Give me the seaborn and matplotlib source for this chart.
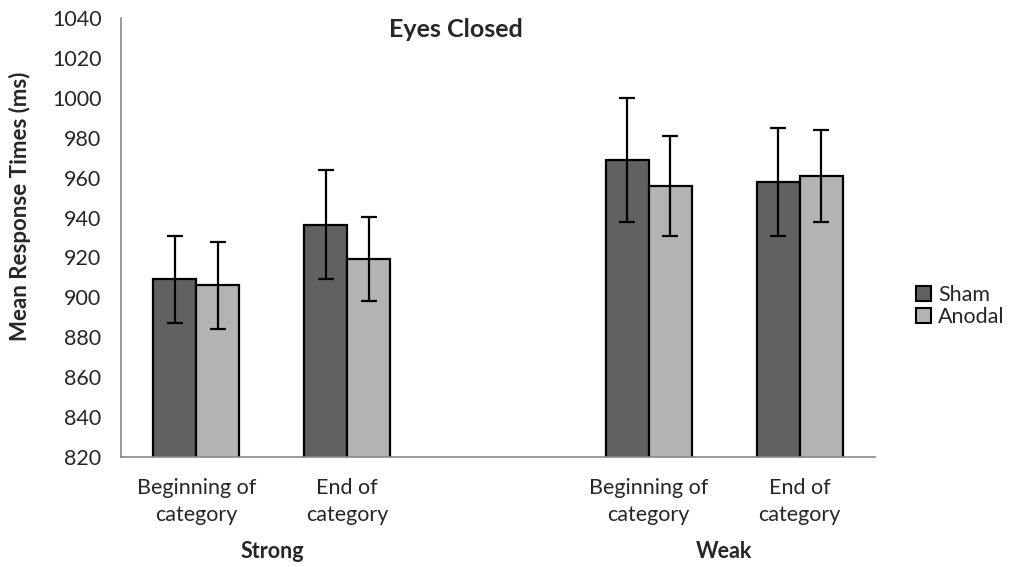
import pandas as pd
import numpy as np
import matplotlib
matplotlib.use("Agg")
import matplotlib.pyplot as plt
import seaborn as sns
from matplotlib.patches import Patch

# data
slots = ["Strong-Beg", "Strong-End", "gap", "Weak-Beg", "Weak-End"]
slot_labels = ["Beginning of\ncategory", "End of\ncategory", "", "Beginning of\ncategory", "End of\ncategory"]
bar_slots = ["Strong-Beg", "Strong-End", "Weak-Beg", "Weak-End"]
sham = [909, 936.4, 969, 957.8]
anodal = [906, 919.4, 955.7, 960.7]
sham_err = [22, 27.3, 31, 27]
anodal_err = [21.8, 21, 25, 23]
groups = ["Strong", "Weak"]
conditions = ["Sham", "Anodal"]
colors = {"Sham": "#616161", "Anodal": "#b3b3b3"}

df = pd.DataFrame({
    "slot": bar_slots * 2,
    "cond": ["Sham"] * 4 + ["Anodal"] * 4,
    "rt": sham + anodal,
    "err": sham_err + anodal_err,
})

sns.set_style("white")
plt.rcParams["font.family"] = ["Lato", "DejaVu Sans"]
fs = 15.5

fig = plt.figure(figsize=(10.15, 5.67), dpi=100)
ax = fig.add_axes([121 / 1015, 1 - 457 / 567, 754 / 1015, 439 / 567])

sns.barplot(data=df, x="slot", y="rt", hue="cond", order=slots, hue_order=conditions,
            palette=colors, width=0.57, gap=0, edgecolor="black", linewidth=1.6,
            errorbar=None, legend=False, ax=ax)

# error bars at each bar's centre
for cond, cont in zip(conditions, ax.containers):
    sub = df[df["cond"] == cond].set_index("slot").loc[bar_slots]
    xs = [p.get_x() + p.get_width() / 2 for p in cont.patches]
    ax.errorbar(xs, sub["rt"], yerr=sub["err"], fmt="none", ecolor="black",
                elinewidth=1.6, capsize=5.5, capthick=1.6, zorder=5)

ax.set_ylim(820, 1040)
ax.set_yticks(np.arange(820, 1041, 20))
ax.set_xlim(-0.5, 4.5)
ax.set_xticks(range(len(slots)))
ax.set_xticklabels(slot_labels, fontsize=fs, linespacing=1.45)
ax.set_xticks(np.arange(-0.5, 4.6, 1), minor=True)
ax.tick_params(axis="x", which="major", length=0, pad=15)
ax.tick_params(axis="x", which="minor", length=6, width=1, color="#888888", direction="out")
ax.tick_params(axis="y", length=6, width=1, color="#888888", direction="out", labelsize=fs, pad=8)
ax.set_xlabel("")
ax.set_ylabel("Mean Response Times (ms)", fontsize=16, fontweight="bold")
ax.yaxis.set_label_coords(-0.119, 0.57)

for s in ["top", "right"]:
    ax.spines[s].set_visible(False)
for s in ["left", "bottom"]:
    ax.spines[s].set_color("#888888")
    ax.spines[s].set_linewidth(1.2)

# group labels under the category labels
for g, xc in zip(groups, [0.5, 3.5]):
    ax.text(xc, -0.215, g, transform=ax.get_xaxis_transform(), ha="center", va="center",
            fontsize=fs, fontweight="bold")

ax.text(0.444, 0.973, "Eyes Closed", transform=ax.transAxes, ha="center", va="center",
        fontsize=18, fontweight="bold")

handles = [Patch(facecolor=colors[c], edgecolor="black", linewidth=1.5, label=c) for c in conditions]
fig.legend(handles=handles, loc="center left", bbox_to_anchor=(905 / 1015, 1 - 306 / 567),
           frameon=False, fontsize=fs, handlelength=0.7, handleheight=0.7,
           handletextpad=0.35, labelspacing=0.1, borderpad=0)

fig.savefig("out.png", dpi=100)
